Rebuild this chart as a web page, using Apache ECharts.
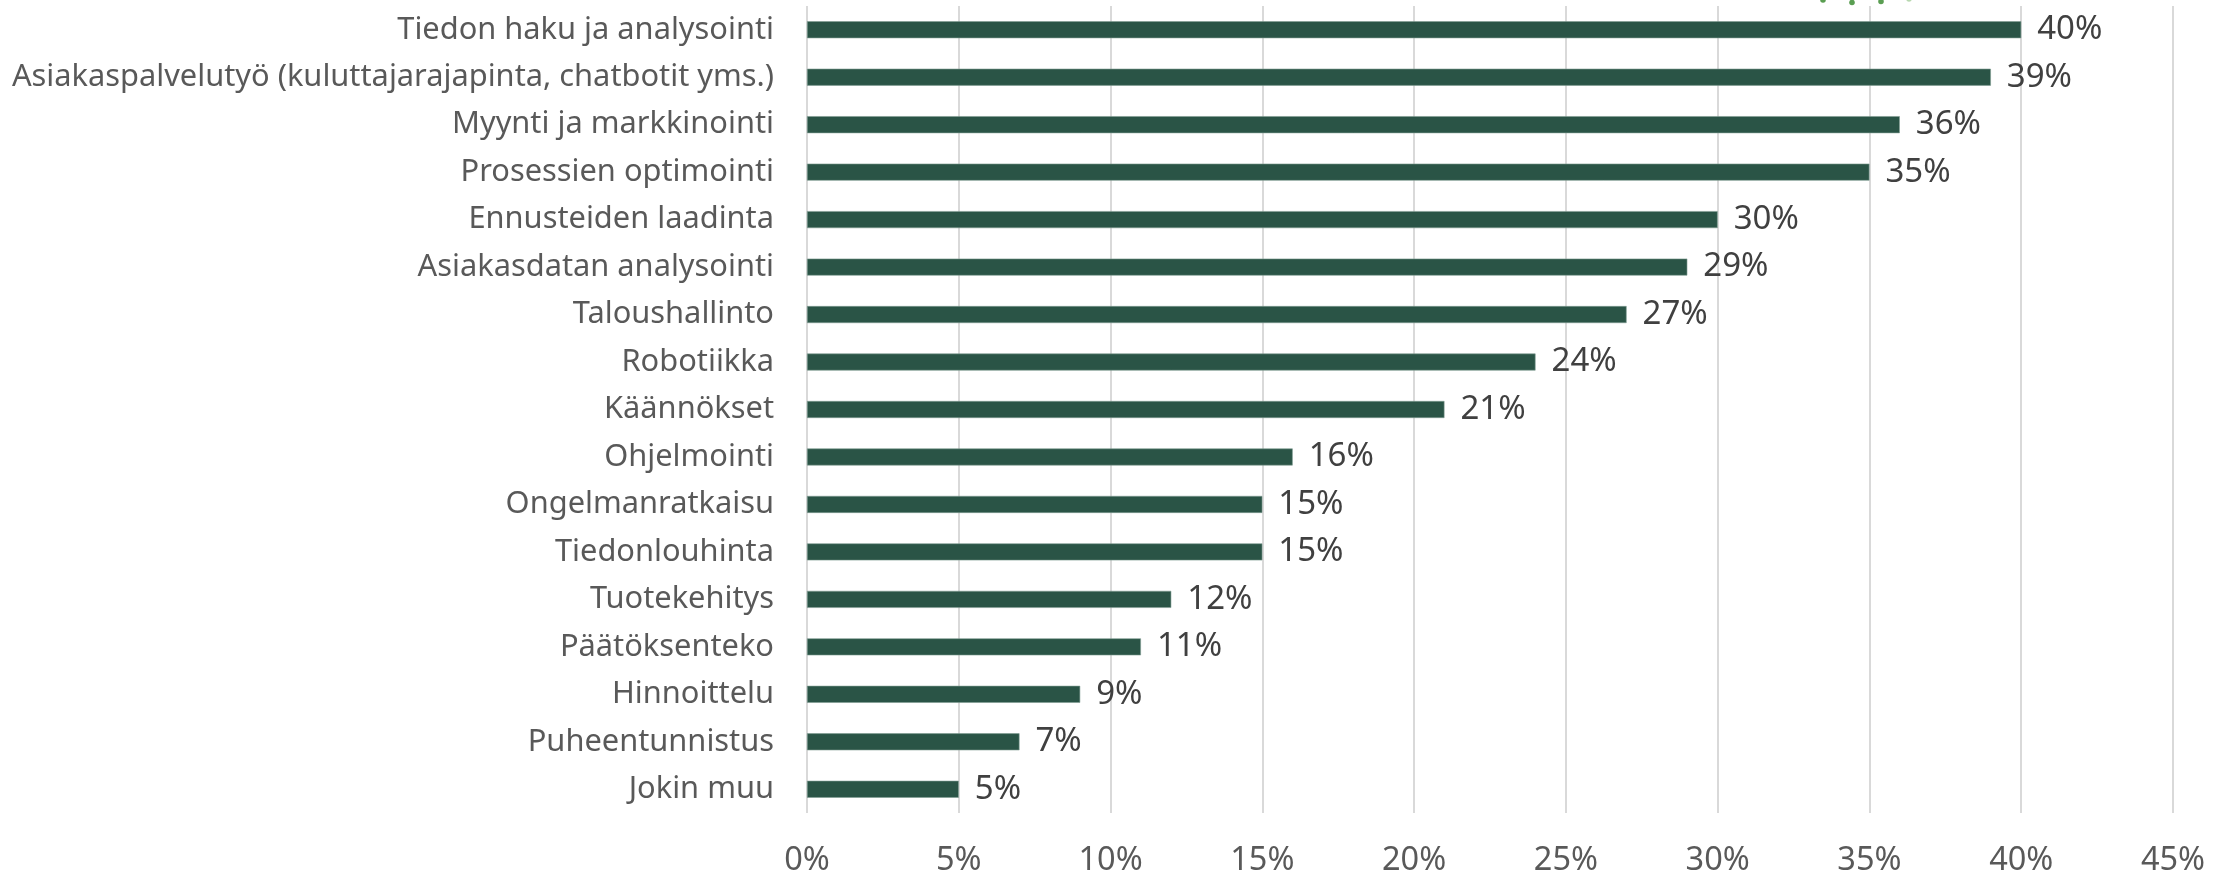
<!DOCTYPE html>
<html>
<head>
<meta charset="utf-8">
<script src="https://cdn.jsdelivr.net/npm/echarts@6/dist/echarts.min.js"></script>
<style>
html,body{margin:0;padding:0;background:#fff;}
#chart{width:2231px;height:877px;}
</style>
</head>
<body>
<div id="chart"></div>
<script>
const categories = [
  "Tiedon haku ja analysointi",
  "Asiakaspalvelutyö (kuluttajarajapinta, chatbotit yms.)",
  "Myynti ja markkinointi",
  "Prosessien optimointi",
  "Ennusteiden laadinta",
  "Asiakasdatan analysointi",
  "Taloushallinto",
  "Robotiikka",
  "Käännökset",
  "Ohjelmointi",
  "Ongelmanratkaisu",
  "Tiedonlouhinta",
  "Tuotekehitys",
  "Päätöksenteko",
  "Hinnoittelu",
  "Puheentunnistus",
  "Jokin muu"
];
const values = [40, 39, 36, 35, 30, 29, 27, 24, 21, 16, 15, 15, 12, 11, 9, 7, 5];
const xTicks = [0, 5, 10, 15, 20, 25, 30, 35, 40, 45];

const FONT = '"Noto Sans", "Open Sans", sans-serif';
const chart = echarts.init(document.getElementById('chart'), null, {renderer: 'canvas'});
chart.setOption({
  animation: false,
  backgroundColor: '#ffffff',
  grid: {left: 807, right: 58, top: 6, bottom: 59, containLabel: false},
  xAxis: {
    type: 'value',
    min: xTicks[0],
    max: xTicks[xTicks.length - 1],
    interval: xTicks[1] - xTicks[0],
    axisLine: {show: false},
    axisTick: {show: false},
    splitLine: {show: true, lineStyle: {color: '#d9d9d9', width: 2}},
    axisLabel: {
      formatter: v => v + '%',
      color: '#595959',
      fontSize: 32.5,
      fontFamily: FONT,
      margin: 31
    }
  },
  yAxis: {
    type: 'category',
    data: categories,
    inverse: true,
    axisLine: {show: false},
    axisTick: {show: false},
    axisLabel: {
      color: '#595959',
      fontSize: 30.8,
      fontFamily: FONT,
      margin: 33
    }
  },
  series: [{
    type: 'bar',
    data: values,
    barWidth: 17,
    itemStyle: {color: '#2a5446', borderColor: '#7f9c92', borderWidth: 0.6},
    label: {
      show: true,
      position: 'right',
      distance: 16,
      formatter: p => p.value + '%',
      color: '#404040',
      fontSize: 33,
      fontFamily: FONT
    }
  }],
  graphic: [
    {type: 'circle', shape: {cx: 1823, cy: 0, r: 2.8}, style: {fill: '#5a9e52'}},
    {type: 'circle', shape: {cx: 1852, cy: 2.5, r: 2.8}, style: {fill: '#5a9e52'}},
    {type: 'circle', shape: {cx: 1881, cy: 1.5, r: 2.8}, style: {fill: '#5a9e52'}},
    {type: 'circle', shape: {cx: 1909, cy: -1, r: 2.8}, style: {fill: '#b8d8b0'}}
  ]
});
</script>
</body>
</html>
